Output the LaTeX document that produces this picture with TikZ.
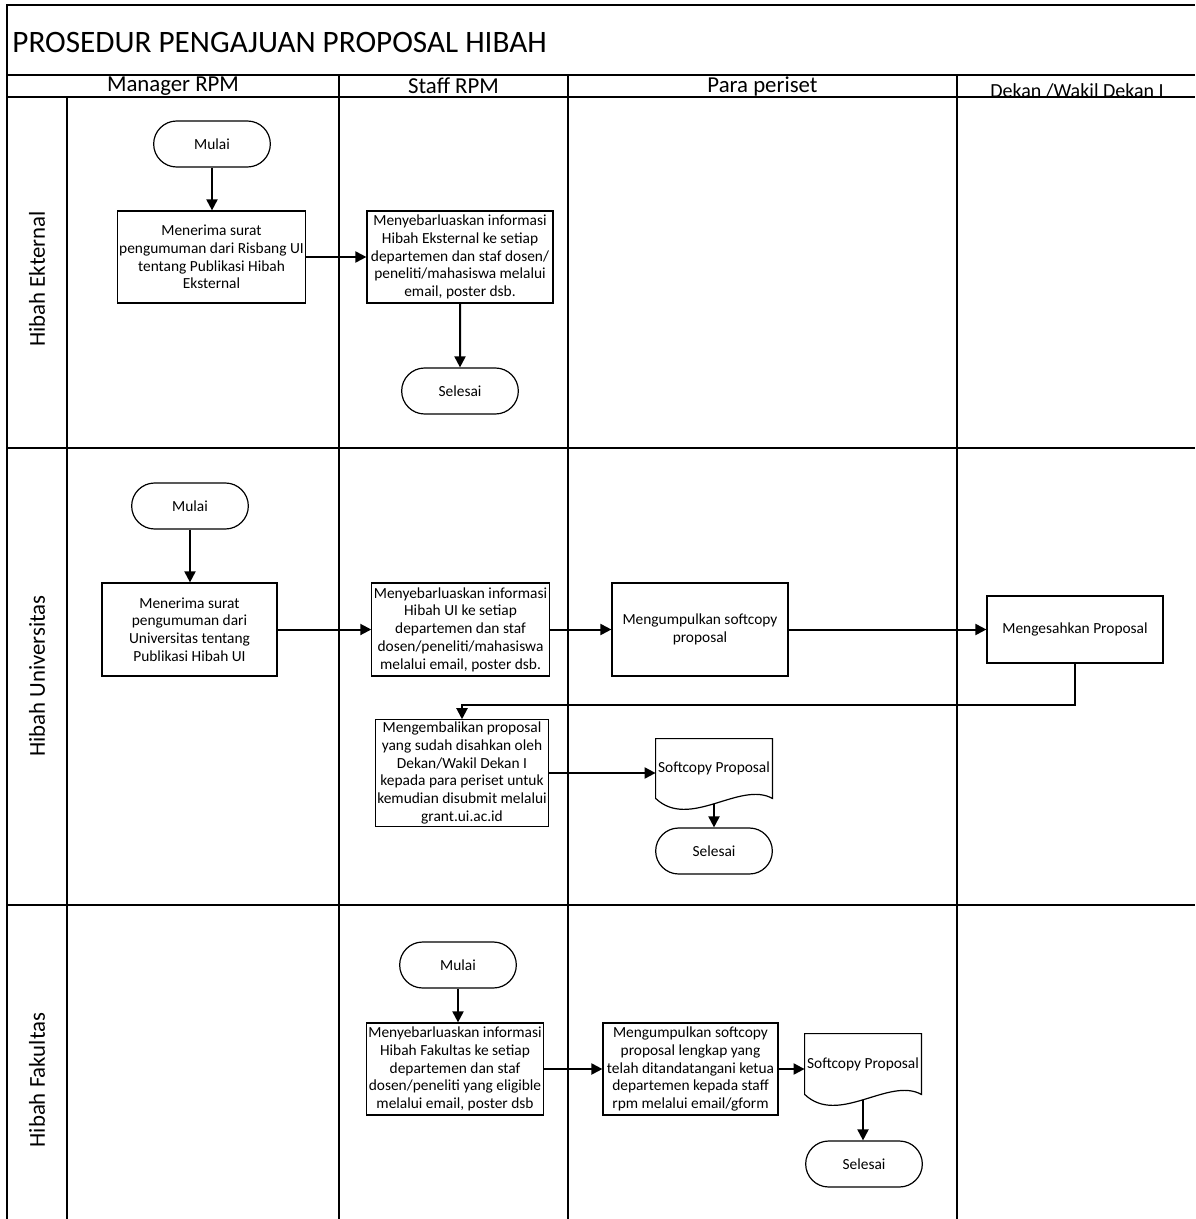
\documentclass[tikz,border=0pt]{standalone}
\usepackage{fontspec}
\setmainfont{Carlito}
\usetikzlibrary{arrows.meta,calc,positioning,shapes.misc}

\newcommand{\docoutline}[1]{%
  \draw[line width=0.6pt] (#1.south west) -- (#1.north west) -- (#1.north east) -- (#1.south east)
    .. controls ($(#1.south west)!0.72!(#1.south east)+(0,9pt)$) and ($(#1.south west)!0.29!(#1.south east)+(0,-16pt)$) .. (#1.south west) -- cycle;}

\begin{document}
\begin{tikzpicture}[x=0.5pt,y=-0.5pt,
  laneline/.style={line width=0.8pt},
  boxfont/.style={font=\fontsize{7.7}{8.9}\selectfont},
  proc/.style={draw,line width=0.6pt,align=center,boxfont,inner sep=1pt},
  term/.style={draw,line width=0.6pt,rounded rectangle,minimum width=65pt,minimum height=23pt,boxfont},
  docnode/.style={align=center,boxfont,minimum width=58pt,minimum height=29.5pt,inner sep=0pt},
  hdr/.style={font=\fontsize{11.4}{13}\selectfont,inner sep=0pt},
  lanelbl/.style={font=\fontsize{11.4}{13}\selectfont,rotate=90,inner sep=0pt},
  flow/.style={-{Triangle[length=5.5pt,width=5.5pt]},line width=1pt}]
  \useasboundingbox (0,0) rectangle (1195,1219);

  % frame and lanes
  \draw[laneline] (7,1219) -- (7,5) -- (1195,5);
  \draw[laneline] (7,75) -- (1195,75);
  \draw[laneline] (7,97) -- (1195,97);
  \draw[laneline] (67,97) -- (67,1219);
  \foreach \x in {339,568,957} \draw[laneline] (\x,75) -- (\x,1219);
  \foreach \y in {448,905} \draw[laneline] (7,\y) -- (1195,\y);

  \node[anchor=west,inner sep=0pt,font=\fontsize{15.6}{18}\selectfont] (judul) at (12,42) {PROSEDUR PENGAJUAN PROPOSAL HIBAH};
  \node[hdr] (hmanager) at (173,86) {Manager RPM};
  \node[hdr] (hstaff) at (453.5,86) {Staff RPM};
  \node[hdr] (hperiset) at (762.5,86) {Para periset};
  \node[anchor=base,inner sep=0pt,font=\fontsize{10}{12}\selectfont] (hdekan) at (1077,98) {Dekan /Wakil Dekan I};

  \node[lanelbl] (leksternal) at (37,279) {Hibah Ekternal};
  \node[lanelbl] (luniv) at (37,676) {Hibah Universitas};
  \node[lanelbl] (lfakultas) at (37,1080) {Hibah Fakultas};

  % Hibah Eksternal
  \node[term] (mulai1) at (212,144) {Mulai};
  \node[proc,minimum width=92.5pt,minimum height=46pt] (terima1) at (211.5,257)
    {Menerima surat\\pengumuman dari Risbang UI\\tentang Publikasi Hibah\\Eksternal};
  \node[proc,minimum width=93pt,minimum height=46pt] (sebar1) at (460,257)
    {Menyebarluaskan informasi\\Hibah Eksternal ke setiap\\departemen dan staf dosen/\\peneliti/mahasiswa melalui\\email, poster dsb.};
  \node[term] (selesai1) at (460,391) {Selesai};

  \draw[flow] (mulai1.south) -- (mulai1.south |- terima1.north);
  \draw[flow] (terima1) -- (sebar1);
  \draw[flow] (sebar1) -- (selesai1);

  % Hibah Universitas
  \node[term] (mulai2) at (190,506) {Mulai};
  \node[proc,minimum width=87.5pt,minimum height=46.5pt] (terima2) at (189.5,629.5)
    {Menerima surat\\pengumuman dari\\Universitas tentang\\Publikasi Hibah UI};
  \node[proc,minimum width=87.5pt,minimum height=46.5pt] (sebar2) at (460.5,629.5)
    {Menyebarluaskan informasi\\Hibah UI ke setiap\\departemen dan staf\\dosen/peneliti/mahasiswa\\melalui email, poster dsb.};
  \node[proc,minimum width=88pt,minimum height=46.5pt] (kumpul2) at (700,629.5)
    {Mengumpulkan softcopy\\proposal};
  \node[proc,minimum width=88pt,minimum height=33.5pt] (sah2) at (1075,629.5) {Mengesahkan Proposal};
  \node[proc,minimum width=86pt,minimum height=52pt] (kembali2) at (462,773)
    {Mengembalikan proposal\\yang sudah disahkan oleh\\Dekan/Wakil Dekan I\\kepada para periset untuk\\kemudian disubmit melalui\\grant.ui.ac.id};
  \node[docnode] (doc1) at (714,768.5) {Softcopy Proposal};
  \docoutline{doc1}
  \coordinate (doc1b) at ($(doc1.south)+(0,-2.6pt)$);
  \node[term] (selesai2) at (714,851) {Selesai};

  \draw[flow] (mulai2.south) -- (mulai2.south |- terima2.north);
  \draw[flow] (terima2) -- (sebar2);
  \draw[flow] (sebar2) -- (kumpul2);
  \draw[flow] (kumpul2) -- (sah2);
  \draw[flow] (sah2.south) -- ++(0,41) -| (kembali2.north);
  \draw[flow] (kembali2.east) -- (kembali2.east -| doc1.west);
  \draw[flow] (doc1b) -- (doc1b |- selesai2.north);

  % Hibah Fakultas
  \node[term] (mulai3) at (458,965) {Mulai};
  \node[proc,minimum width=88pt,minimum height=46pt] (sebar3) at (455,1069)
    {Menyebarluaskan informasi\\Hibah Fakultas ke setiap\\departemen dan staf\\dosen/peneliti yang eligible\\melalui email, poster dsb};
  \node[proc,minimum width=87.5pt,minimum height=46pt] (kumpul3) at (690.5,1069)
    {Mengumpulkan softcopy\\proposal lengkap yang\\telah ditandatangani ketua\\departemen kepada staff\\rpm melalui email/gform};
  \node[docnode,minimum height=30pt] (doc2) at (863,1064) {Softcopy Proposal};
  \docoutline{doc2}
  \coordinate (doc2b) at ($(doc2.south)+(0,-2.6pt)$);
  \node[term] (selesai3) at (864,1164) {Selesai};

  \draw[flow] (mulai3.south) -- (mulai3.south |- sebar3.north);
  \draw[flow] (sebar3) -- (kumpul3);
  \draw[flow] (kumpul3.east) -- (kumpul3.east -| doc2.west);
  \draw[flow] (doc2b) -- (doc2b |- selesai3.north);
\end{tikzpicture}
\end{document}
